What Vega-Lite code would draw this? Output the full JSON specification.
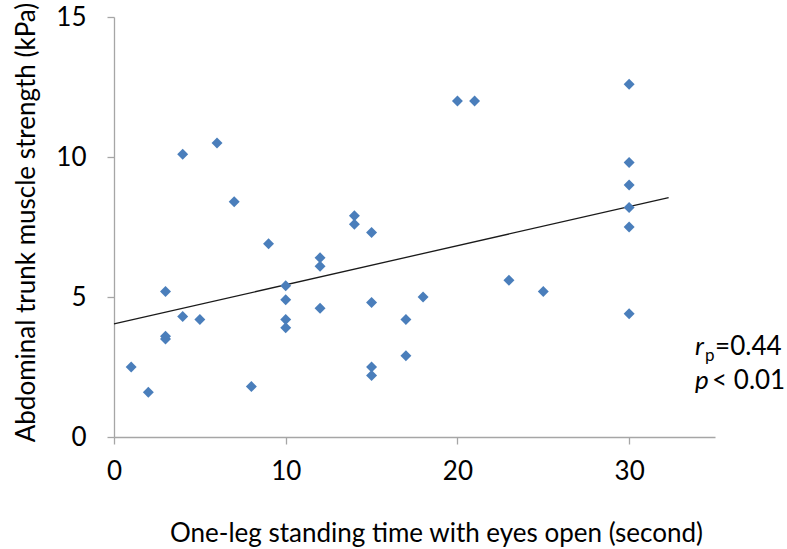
{
  "$schema": "https://vega.github.io/schema/vega-lite/v6.json",
  "width": 601,
  "height": 420,
  "autosize": {"type": "none"},
  "padding": {"left": 114, "top": 17, "right": 72, "bottom": 112},
  "background": "white",
  "config": {"view": {"stroke": null}, "font": "Lato"},
  "datasets": {
    "points": [
      {"time": 1, "strength": 2.5},
      {"time": 2, "strength": 1.6},
      {"time": 3, "strength": 5.2},
      {"time": 3, "strength": 3.6},
      {"time": 3, "strength": 3.5},
      {"time": 4, "strength": 10.1},
      {"time": 4, "strength": 4.3},
      {"time": 5, "strength": 4.2},
      {"time": 6, "strength": 10.5},
      {"time": 7, "strength": 8.4},
      {"time": 8, "strength": 1.8},
      {"time": 9, "strength": 6.9},
      {"time": 10, "strength": 5.4},
      {"time": 10, "strength": 4.9},
      {"time": 10, "strength": 4.2},
      {"time": 10, "strength": 3.9},
      {"time": 12, "strength": 6.4},
      {"time": 12, "strength": 6.1},
      {"time": 12, "strength": 4.6},
      {"time": 14, "strength": 7.9},
      {"time": 14, "strength": 7.6},
      {"time": 15, "strength": 7.3},
      {"time": 15, "strength": 4.8},
      {"time": 15, "strength": 2.5},
      {"time": 15, "strength": 2.2},
      {"time": 17, "strength": 4.2},
      {"time": 17, "strength": 2.9},
      {"time": 18, "strength": 5.0},
      {"time": 20, "strength": 12.0},
      {"time": 21, "strength": 12.0},
      {"time": 23, "strength": 5.6},
      {"time": 25, "strength": 5.2},
      {"time": 30, "strength": 12.6},
      {"time": 30, "strength": 9.8},
      {"time": 30, "strength": 9.0},
      {"time": 30, "strength": 8.2},
      {"time": 30, "strength": 7.5},
      {"time": 30, "strength": 4.4}
    ],
    "trend": [
      {"time": 0, "strength": 4.04},
      {"time": 32.3, "strength": 8.55}
    ],
    "stats": [
      {"r_label": "r", "r_sub": "p", "r_value": "=0.44", "p_label": "p", "p_value": "< 0.01"}
    ]
  },
  "layer": [
    {
      "data": {"name": "trend"},
      "mark": {"type": "line", "color": "#1a1a1a", "strokeWidth": 1.3},
      "encoding": {
        "x": {
          "field": "time",
          "type": "quantitative",
          "scale": {"domain": [0, 35], "nice": false, "zero": false},
          "axis": {
            "title": "One-leg standing time with eyes open (second)",
            "values": [0, 10, 20, 30],
            "grid": false,
            "domainColor": "#a6a6a6",
            "domainWidth": 1.3,
            "tickColor": "#a6a6a6",
            "tickWidth": 1.3,
            "tickSize": 7,
            "labelFont": "Lato",
            "labelFontSize": 26,
            "labelColor": "#000000",
            "labelPadding": 14,
            "labelFlush": false,
            "labelOverlap": false,
            "titleFont": "Lato",
            "titleFontSize": 26,
            "titleFontWeight": "normal",
            "titleColor": "#000000",
            "titleX": 322,
            "titleY": 104,
            "titleAlign": "center",
            "titleBaseline": "alphabetic"
          }
        },
        "y": {
          "field": "strength",
          "type": "quantitative",
          "scale": {"domain": [0, 15], "nice": false, "zero": false},
          "axis": {
            "title": "Abdominal trunk muscle strength (kPa)",
            "values": [0, 5, 10, 15],
            "grid": false,
            "domainColor": "#a6a6a6",
            "domainWidth": 1.3,
            "tickColor": "#a6a6a6",
            "tickWidth": 1.3,
            "tickSize": 7,
            "labelFont": "Lato",
            "labelFontSize": 26,
            "labelColor": "#000000",
            "labelPadding": 21,
            "labelFlush": false,
            "labelOverlap": false,
            "titleFont": "Lato",
            "titleFontSize": 26,
            "titleFontWeight": "normal",
            "titleColor": "#000000",
            "titleX": -80,
            "titleY": 205,
            "titleAngle": -90,
            "titleAlign": "center",
            "titleBaseline": "alphabetic"
          }
        }
      }
    },
    {
      "data": {"name": "points"},
      "mark": {"type": "point", "shape": "diamond", "filled": true, "size": 120, "color": "#4A7EBB", "opacity": 1},
      "encoding": {
        "x": {"field": "time", "type": "quantitative"},
        "y": {"field": "strength", "type": "quantitative"}
      }
    },
    {
      "data": {"name": "stats"},
      "mark": {"type": "text", "fontStyle": "italic", "fontSize": 26, "align": "left", "baseline": "alphabetic", "color": "#000000"},
      "encoding": {
        "x": {"datum": 33.84, "type": "quantitative"},
        "y": {"datum": 2.92, "type": "quantitative"},
        "text": {"field": "r_label"}
      }
    },
    {
      "data": {"name": "stats"},
      "mark": {"type": "text", "fontSize": 17, "align": "left", "baseline": "alphabetic", "dx": 10, "dy": 6, "color": "#000000"},
      "encoding": {
        "x": {"datum": 33.84, "type": "quantitative"},
        "y": {"datum": 2.92, "type": "quantitative"},
        "text": {"field": "r_sub"}
      }
    },
    {
      "data": {"name": "stats"},
      "mark": {"type": "text", "fontSize": 26, "align": "left", "baseline": "alphabetic", "dx": 20, "color": "#000000"},
      "encoding": {
        "x": {"datum": 33.84, "type": "quantitative"},
        "y": {"datum": 2.92, "type": "quantitative"},
        "text": {"field": "r_value"}
      }
    },
    {
      "data": {"name": "stats"},
      "mark": {"type": "text", "fontStyle": "italic", "fontSize": 26, "align": "left", "baseline": "alphabetic", "color": "#000000"},
      "encoding": {
        "x": {"datum": 33.84, "type": "quantitative"},
        "y": {"datum": 1.7, "type": "quantitative"},
        "text": {"field": "p_label"}
      }
    },
    {
      "data": {"name": "stats"},
      "mark": {"type": "text", "fontSize": 26, "align": "left", "baseline": "alphabetic", "dx": 17, "color": "#000000"},
      "encoding": {
        "x": {"datum": 33.84, "type": "quantitative"},
        "y": {"datum": 1.7, "type": "quantitative"},
        "text": {"field": "p_value"}
      }
    }
  ]
}
